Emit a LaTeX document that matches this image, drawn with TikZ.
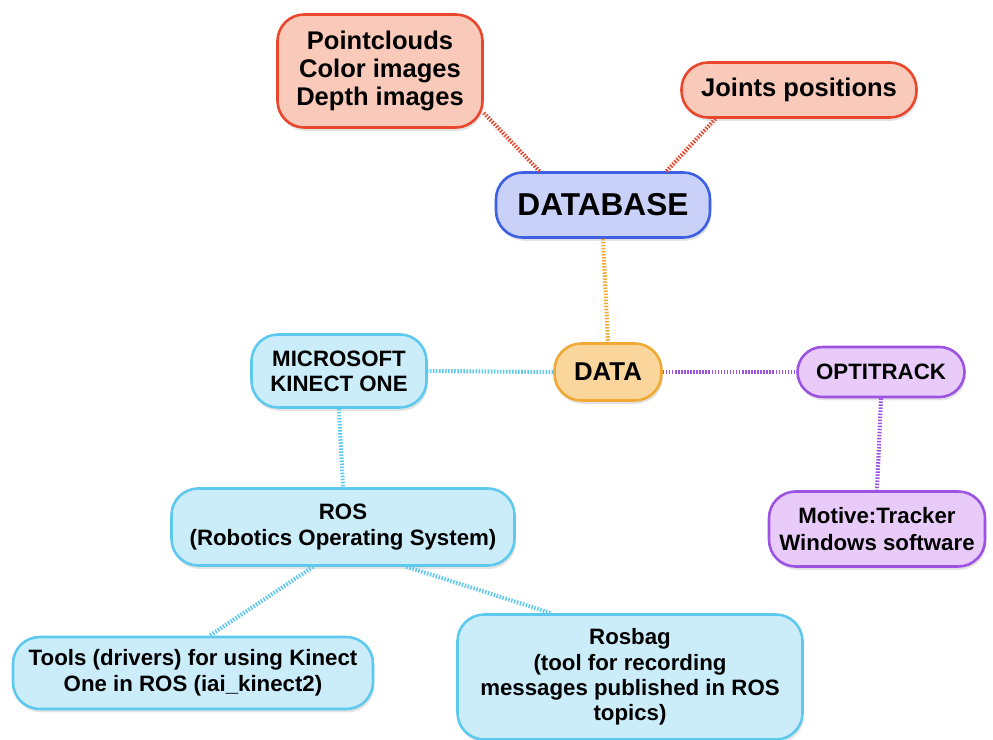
\documentclass[tikz,border=0pt]{standalone}
\usepackage{fontspec}
\setmainfont{Liberation Sans}
\usetikzlibrary{shadows}
\definecolor{redline}{HTML}{E8472C}
\definecolor{redfill}{HTML}{F9C9B9}
\definecolor{blueline}{HTML}{3D5FE3}
\definecolor{bluefill}{HTML}{C9D1F9}
\definecolor{orangeline}{HTML}{F0A935}
\definecolor{orangefill}{HTML}{FAD59C}
\definecolor{cyanline}{HTML}{5EC9EE}
\definecolor{cyanfill}{HTML}{CBEDFA}
\definecolor{purpleline}{HTML}{9C52E2}
\definecolor{purplefill}{HTML}{E9CBF9}
\begin{document}
\begin{tikzpicture}[x=0.03cm,y=-0.03cm,
 box/.style={rounded corners=0.8cm,line width=2.2pt,align=center,inner sep=0pt,
  font=\bfseries\fontsize{19}{22.5}\selectfont,
  drop shadow={shadow xshift=0.04cm,shadow yshift=-0.1cm,opacity=0.22}},
 redbox/.style={box,draw=redline,fill=redfill,font=\bfseries\fontsize{21.8}{23.8}\selectfont},
 bluebox/.style={box,draw=blueline,fill=bluefill,font=\bfseries\fontsize{27}{30}\selectfont},
 orangebox/.style={box,draw=orangeline,fill=orangefill,font=\bfseries\fontsize{22}{24}\selectfont},
 cyanbox/.style={box,draw=cyanline,fill=cyanfill},
 purplebox/.style={box,draw=purpleline,fill=purplefill},
 link/.style={line width=3.5pt,dash pattern=on 1.3pt off 1.3pt}]
 \useasboundingbox (0,0) rectangle (993,740);
 \node[redbox,minimum width=6.15cm,minimum height=3.39cm] (clouds) at (380,71) {Pointclouds\\Color images\\Depth images};
 \node[redbox,minimum width=7.05cm,minimum height=1.65cm] (joints) at (799,90) {Joints positions};
 \node[bluebox,minimum width=6.42cm,minimum height=1.95cm] (db) at (603,205) {DATABASE};
 \node[orangebox,minimum width=3.21cm,minimum height=1.71cm] (data) at (608,372) {DATA};
 \node[cyanbox,minimum width=5.25cm,minimum height=2.19cm,font=\bfseries\fontsize{19}{21.5}\selectfont] (kinect) at (339,371) {MICROSOFT\\KINECT ONE};
 \node[purplebox,minimum width=5.01cm,minimum height=1.5cm,rounded corners=0.75cm] (opti) at (881,372) {OPTITRACK};
 \node[cyanbox,minimum width=10.29cm,minimum height=2.31cm] (ros) at (343,527) {ROS\\(Robotics Operating System)};
 \node[purplebox,minimum width=6.48cm,minimum height=2.25cm] (motive) at (877,529) {Motive:Tracker\\Windows software};
 \node[cyanbox,minimum width=10.8cm,minimum height=2.16cm] (tools) at (193,673) {Tools (drivers) for using Kinect\\One in ROS (iai\_kinect2)};
 \node[cyanbox,minimum width=10.35cm,minimum height=3.75cm,font=\bfseries\fontsize{19}{21.5}\selectfont] (rosbag) at (630,677) {Rosbag\\(tool for recording\\messages published in ROS\\topics)};
 \draw[link,redline] (clouds.-22.8) -- (db.152.4);
 \draw[link,redline] (joints.199) -- (db.28.8);
 \draw[link,orangeline] (db.south) -- (data.north);
 \draw[link,cyanline] (data.west) -- (kinect.east);
 \draw[link,purpleline] (data.east) -- (opti.west);
 \draw[link,purpleline] (opti.south) -- (motive.north);
 \draw[link,cyanline] (kinect.south) -- (ros.north);
 \draw[link,cyanline] (ros.233) -- (tools.66);
 \draw[link,cyanline] (ros.-32) -- (rosbag.141);
\end{tikzpicture}
\end{document}
